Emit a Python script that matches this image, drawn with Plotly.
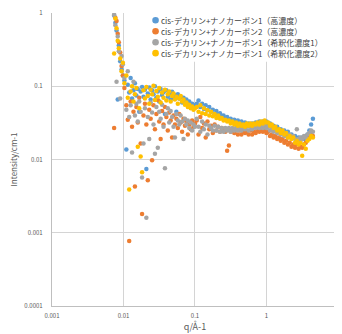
import plotly.graph_objects as go

# ---------------- data ----------------
q_low = [0.0074, 0.0077, 0.0080, 0.0083, 0.0086, 0.0090, 0.0094, 0.0098, 0.0103]
q_mid = [0.01096, 0.01148, 0.01202, 0.01259, 0.01318, 0.01380, 0.01445, 0.01514, 0.01585, 0.01660,
         0.01738, 0.01820, 0.01905, 0.01995, 0.02089, 0.02188, 0.02291, 0.02399, 0.02512, 0.02630,
         0.02754, 0.02884, 0.03020, 0.03162, 0.03311, 0.03467, 0.03631, 0.03802, 0.03981, 0.04169,
         0.04365, 0.04571, 0.04786, 0.05012, 0.05248, 0.05495, 0.05754, 0.06026, 0.06310, 0.06607,
         0.06918, 0.07244, 0.07586, 0.07943, 0.08318, 0.08710, 0.09120, 0.09550, 0.1000]
q_high = [0.1059, 0.1122, 0.1189, 0.1259, 0.1334, 0.1413, 0.1496, 0.1585, 0.1679, 0.1778,
          0.1884, 0.1995, 0.2113, 0.2239, 0.2371, 0.2512, 0.2661, 0.2818, 0.2985, 0.3162,
          0.3350, 0.3548, 0.3758, 0.3981, 0.4217, 0.4467, 0.4732, 0.5012, 0.5309, 0.5623,
          0.5957, 0.6310, 0.6683, 0.7079, 0.7499, 0.7943, 0.8414, 0.8913, 0.9441, 1.0,
          1.0593, 1.1220, 1.1885, 1.2589, 1.3335, 1.4125, 1.4962, 1.5849, 1.6788, 1.7783,
          1.8836, 1.9953, 2.1135, 2.2387, 2.3714, 2.5119, 2.6607, 2.8184, 2.9854, 3.1623,
          3.3497, 3.5481, 3.7584, 3.9811, 4.2170, 4.4668]
q = q_low + q_mid + q_high

names = ["cis-デカリン+ナノカーボン1（高濃度）",
         "cis-デカリン+ナノカーボン2（高濃度）",
         "cis-デカリン+ナノカーボン1（希釈化濃度1）",
         "cis-デカリン+ナノカーボン1（希釈化濃度2）"]
colors = ["#5B9BD5", "#ED7D31", "#A5A5A5", "#FFC000"]

I_blue = (
    [0.93, 0.74, 0.58, 0.066, 0.36, 0.22, 0.17, 0.14, 0.12] +
    [0.0137, 0.105, 0.082, 0.13, 0.068, 0.088, 0.11, 0.075, 0.092, 0.045,
     0.085, 0.098, 0.072, 0.09, 0.0074, 0.08, 0.096, 0.066, 0.088, 0.078,
     0.10, 0.07, 0.085, 0.062, 0.092, 0.076, 0.083, 0.042, 0.088, 0.072,
     0.08, 0.066, 0.084, 0.07, 0.076, 0.045, 0.078, 0.068, 0.072, 0.06,
     0.07, 0.064, 0.066, 0.058, 0.062, 0.055, 0.058, 0.052, 0.055] +
    [0.058, 0.064, 0.052, 0.058, 0.049, 0.055, 0.047, 0.052, 0.045, 0.048,
     0.042, 0.046, 0.041, 0.043, 0.039, 0.040, 0.036, 0.038, 0.034, 0.036,
     0.033, 0.035, 0.032, 0.034, 0.031, 0.033, 0.030, 0.032, 0.030, 0.031,
     0.029, 0.031, 0.030, 0.032, 0.031, 0.033, 0.031, 0.033, 0.032, 0.033,
     0.030, 0.031, 0.028, 0.029, 0.026, 0.028, 0.025, 0.026, 0.024, 0.025,
     0.022, 0.024, 0.021, 0.022, 0.020, 0.021, 0.019, 0.020, 0.018, 0.020,
     0.019, 0.021, 0.022, 0.025, 0.030, 0.036])

I_orange = (
    [0.027, 0.86, 0.78, 0.52, 0.40, 0.29, 0.19, 0.14, 0.095] +
    [0.055, 0.035, 0.00077, 0.062, 0.028, 0.045, 0.0043, 0.052, 0.032, 0.07,
     0.0166, 0.0018, 0.04, 0.058, 0.03, 0.0052, 0.048, 0.036, 0.0098, 0.055,
     0.026, 0.042, 0.065, 0.033, 0.019, 0.046, 0.03, 0.052, 0.038, 0.025,
     0.044, 0.034, 0.02, 0.04, 0.03, 0.036, 0.027, 0.042, 0.032, 0.024,
     0.036, 0.029, 0.033, 0.022, 0.03, 0.026, 0.034, 0.028, 0.031] +
    [0.034, 0.022, 0.038, 0.027, 0.031, 0.020, 0.033, 0.026, 0.029, 0.023,
     0.030, 0.025, 0.028, 0.024, 0.027, 0.026, 0.024, 0.0132, 0.0155, 0.024,
     0.026, 0.023, 0.025, 0.022, 0.025, 0.022, 0.024, 0.023, 0.024, 0.022,
     0.025, 0.022, 0.024, 0.023, 0.025, 0.024, 0.025, 0.024, 0.025, 0.023,
     0.024, 0.021, 0.022, 0.020, 0.021, 0.019, 0.020, 0.018, 0.019, 0.017,
     0.018, 0.016, 0.017, 0.015, 0.016, 0.0145, 0.016, 0.014, 0.015, 0.0145,
     0.016, 0.017, 0.019, 0.020, 0.022, 0.021])

I_gray = (
    [0.95, 0.68, 0.115, 0.48, 0.30, 0.068, 0.26, 0.20, 0.13] +
    [0.048, 0.16, 0.038, 0.055, 0.0125, 0.115, 0.04, 0.058, 0.033, 0.062,
     0.045, 0.0057, 0.0166, 0.05, 0.0016, 0.038, 0.019, 0.06, 0.044, 0.03,
     0.012, 0.052, 0.0145, 0.045, 0.036, 0.056, 0.028, 0.0076, 0.042, 0.05,
     0.032, 0.046, 0.038, 0.028, 0.02, 0.042, 0.034, 0.03, 0.04, 0.033,
     0.019, 0.036, 0.03, 0.034, 0.027, 0.032, 0.025, 0.03, 0.028] +
    [0.036, 0.028, 0.024, 0.033, 0.026, 0.030, 0.022, 0.029, 0.027, 0.025,
     0.029, 0.025, 0.028, 0.024, 0.027, 0.024, 0.027, 0.025, 0.027, 0.024,
     0.027, 0.025, 0.027, 0.025, 0.027, 0.025, 0.027, 0.026, 0.028, 0.025,
     0.028, 0.026, 0.028, 0.027, 0.029, 0.027, 0.029, 0.027, 0.029, 0.027,
     0.028, 0.025, 0.027, 0.024, 0.026, 0.023, 0.025, 0.022, 0.024, 0.021,
     0.023, 0.020, 0.022, 0.020, 0.021, 0.019, 0.026, 0.019, 0.020, 0.019,
     0.021, 0.020, 0.022, 0.023, 0.025, 0.024])

I_yellow = (
    [0.28, 0.84, 0.62, 0.42, 0.33, 0.24, 0.16, 0.21, 0.11] +
    [0.14, 0.07, 0.0039, 0.085, 0.10, 0.062, 0.078, 0.095, 0.015, 0.05,
     0.011, 0.0067, 0.088, 0.068, 0.098, 0.074, 0.058, 0.09, 0.078, 0.102,
     0.065, 0.086, 0.072, 0.095, 0.06, 0.082, 0.07, 0.09, 0.064, 0.078,
     0.085, 0.062, 0.074, 0.08, 0.066, 0.072, 0.058, 0.068, 0.074, 0.062,
     0.066, 0.056, 0.06, 0.052, 0.056, 0.05, 0.053, 0.048, 0.05] +
    [0.052, 0.045, 0.055, 0.043, 0.050, 0.042, 0.047, 0.040, 0.045, 0.039,
     0.042, 0.037, 0.040, 0.036, 0.037, 0.034, 0.035, 0.033, 0.034, 0.031,
     0.033, 0.030, 0.032, 0.029, 0.031, 0.029, 0.030, 0.028, 0.031, 0.029,
     0.031, 0.029, 0.031, 0.030, 0.032, 0.030, 0.033, 0.031, 0.034, 0.032,
     0.032, 0.029, 0.030, 0.027, 0.028, 0.025, 0.026, 0.023, 0.025, 0.022,
     0.023, 0.020, 0.021, 0.019, 0.020, 0.017, 0.018, 0.016, 0.017, 0.0113,
     0.016, 0.014, 0.018, 0.019, 0.021, 0.020])

series = [I_blue, I_orange, I_gray, I_yellow]
for s in series:
    assert len(s) == len(q), (len(s), len(q))

x_tickvals = [0.001, 0.01, 0.1, 1, 10]
x_ticktext = ["0.001", "0.01", "0.1", "1", "10"]
y_tickvals = [0.0001, 0.001, 0.01, 0.1, 1]
y_ticktext = ["0.0001", "0.001", "0.01", "0.1", "1"]

# ---------------- figure ----------------
OFF = 8                       # page body margin
W, H = 342 - OFF, 334 - OFF   # figure size
L, R, T, B = 52 - OFF, 0, 12 - OFF, 28
pw, ph = W - L - R, H - T - B

def px(xp):   # page pixel -> paper x
    return (xp - OFF - L) / pw

def py(yp):   # page pixel -> paper y
    return (OFF + H - B - yp) / ph

FONT = "Noto Sans CJK JP, Noto Sans, sans-serif"
fig = go.Figure()
for name, color, vals in zip(names, colors, series):
    fig.add_trace(go.Scatter(x=q, y=vals, mode="markers", name=name, showlegend=False,
                             marker=dict(color=color, size=4.5, line=dict(width=0))))

grid = "#d4d4d4"
fig.update_layout(
    width=W, height=H,
    margin=dict(l=L, r=R, t=T, b=B, pad=0),
    paper_bgcolor="white", plot_bgcolor="white",
    font=dict(family=FONT, color="#595959"),
    xaxis=dict(type="log", range=[-3, 1.001], tickvals=x_tickvals, ticktext=x_ticktext,
               showgrid=True, gridcolor=grid, gridwidth=1.3, zeroline=False,
               showline=True, linecolor="#bfbfbf", linewidth=1.3, ticks="",
               tickfont=dict(size=6, color="#595959"), ticklabelstandoff=4,
               ticklabeloverflow="allow",
               title=dict(text="q/Å-1", font=dict(size=9, color="#595959"), standoff=3)),
    yaxis=dict(type="log", range=[-4, 0.001], tickvals=y_tickvals, ticktext=y_ticktext,
               showgrid=True, gridcolor=grid, gridwidth=1.3, zeroline=False,
               showline=True, linecolor="#bfbfbf", linewidth=1.3, ticks="",
               tickfont=dict(size=6, color="#595959"), ticklabelstandoff=7,
               ticklabeloverflow="allow",
               title=dict(text="Intensity/cm-1", font=dict(size=8, color="#595959"), standoff=6)),
)

# legend drawn manually (compact rows like the original)
shapes = [dict(type="rect", xref="paper", yref="paper", x0=px(147), x1=1.0, y0=py(61), y1=1.0,
               fillcolor="white", line=dict(width=0), layer="above")]
annotations = []
for i, (name, color) in enumerate(zip(names, colors)):
    yrow = 19.3 + 11 * i
    shapes.append(dict(type="circle", xref="paper", yref="paper",
                       xsizemode="pixel", ysizemode="pixel",
                       xanchor=px(157), yanchor=py(yrow),
                       x0=-3.3, x1=3.3, y0=-3.3, y1=3.3,
                       fillcolor=color, line=dict(width=0), layer="above"))
    annotations.append(dict(xref="paper", yref="paper", x=px(160), y=py(yrow),
                            xanchor="left", yanchor="middle", showarrow=False,
                            text=name, font=dict(size=8, color="#404040", family=FONT)))
fig.update_layout(shapes=shapes, annotations=annotations)

fig.write_html("out.html")
